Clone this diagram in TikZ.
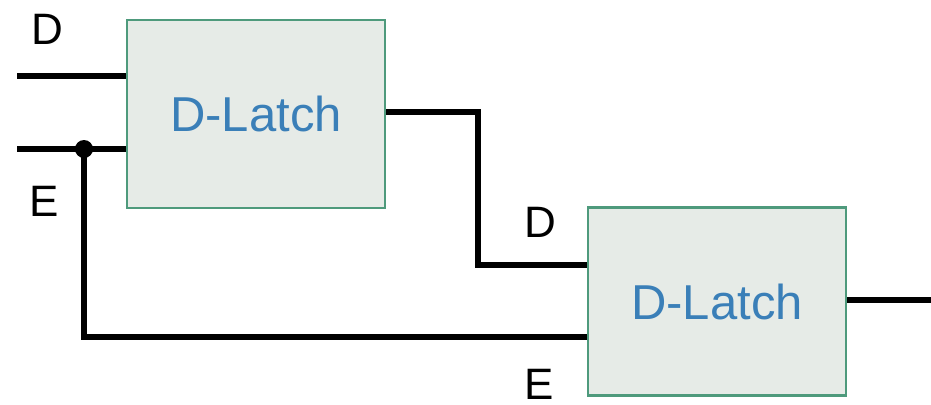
\documentclass[tikz,border=0pt]{standalone}
\usepackage{fontspec}
\setmainfont{Liberation Sans}
\definecolor{boxfill}{HTML}{E6EBE7}
\definecolor{boxline}{HTML}{4E9A7C}
\definecolor{boxtext}{HTML}{3A7FB8}
\begin{document}
\begin{tikzpicture}[x=1pt,y=1pt,
  latch/.style={draw=boxline,line width=2.5pt,fill=boxfill,minimum width=258pt,minimum height=188pt,inner sep=0pt,text=boxtext,font=\fontsize{49}{49}\selectfont},
  wire/.style={line width=6pt,line cap=butt,line join=miter},
  lbl/.style={anchor=base,inner sep=0pt,font=\fontsize{44}{44}\selectfont}]
\useasboundingbox (0,0) rectangle (931,-404);
\node[latch] (b1) at (256,-114) {D-Latch};
\node[latch] (b2) at (717,-301.5) {D-Latch};
\node[lbl] (lD1) at (47,-45) {D};
\node[lbl] (lE1) at (44,-216) {E};
\node[lbl] (lD2) at (540,-237) {D};
\node[lbl] (lE2) at (539,-399) {E};
\coordinate (inD) at (17,-76);
\coordinate (inE) at (17,-149);
\coordinate (j) at (84,-149);
\coordinate (jb) at (84,-337);
\coordinate (t1) at (478,-112);
\coordinate (t2) at (478,-265);
\coordinate (o1) at (385,-112);
\coordinate (out) at (931,-300);
\draw[wire] (inD) -- (inD -| b1.west);
\draw[wire] (inE) -- (inE -| b1.west);
\draw[wire] (j) -- (jb) -- (jb -| b2.west);
\draw[wire] (o1 -| b1.east) -- (t1) -- (t2) -- (t2 -| b2.west);
\draw[wire] (out -| b2.east) -- (out);
\fill (j) circle (9);
\end{tikzpicture}
\end{document}
